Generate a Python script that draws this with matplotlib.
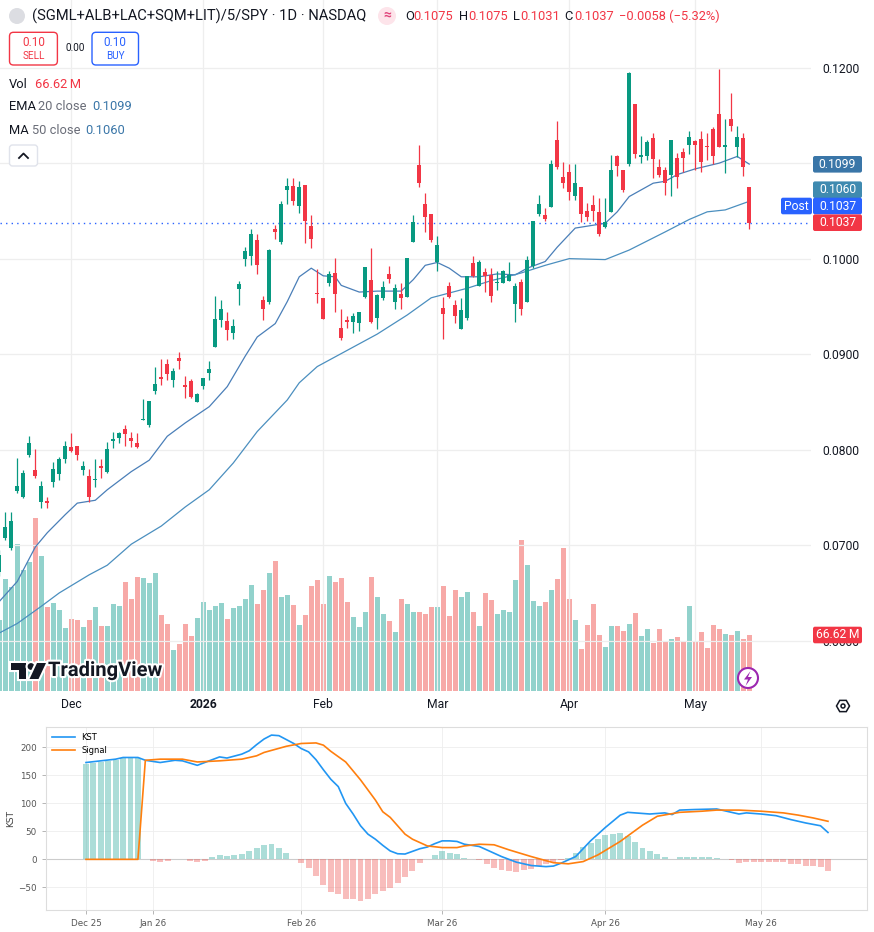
import numpy as np
import matplotlib
matplotlib.use('Agg')
import matplotlib.pyplot as plt
from matplotlib.patches import FancyBboxPatch, Circle, Polygon, RegularPolygon
import matplotlib.patheffects as pe

W, H = 874, 932
TV = ['Roboto', 'DejaVu Sans']

# ---- daily bars, prices x 1e4 ----
opens = [672, 708, 697, 757, 750, 794, 779, 745, 746, 766, 774, 790, 803, 804, 779, 772, 768, 783, 777, 809,
         812, 822, 812, 807, 831, 826, 861, 876, 890, 873, 896, 868, 872, 850, 867, 880, 908, 936, 935, 922,
         968, 1000, 1003, 1019, 957, 955, 1031, 1017, 1072, 1076, 1055, 1077, 1034, 964, 959, 975, 985, 927, 936, 934,
         933, 960, 978, 938, 959, 984, 955, 963, 960, 1017, 1098, 1057, 1047, 997, 948, 971, 951, 926, 938, 995,
         971, 986, 983, 974, 974, 977, 952, 976, 955, 992, 1047, 1046, 1054, 1124, 1085, 1091, 1066, 1075, 1050, 1056,
         1049, 1033, 1049, 1107, 1093, 1099, 1162, 1106, 1107, 1126, 1096, 1093, 1088, 1105, 1112, 1119, 1123, 1125, 1118, 1136,
         1151, 1117, 1146, 1117, 1126, 1075]
highs = [695, 735, 735, 791, 779, 814, 801, 767, 750, 787, 792, 809, 817, 804, 788, 780, 790, 790, 808, 818,
         818, 826, 818, 817, 853, 851, 887, 895, 895, 886, 902, 877, 874, 859, 875, 893, 961, 957, 944, 937,
         977, 1012, 1031, 1026, 961, 1010, 1035, 1060, 1084, 1084, 1081, 1077, 1046, 989, 959, 987, 1001, 947, 940, 943,
         944, 991, 1011, 963, 977, 992, 973, 974, 1001, 1046, 1119, 1069, 1047, 1024, 960, 976, 957, 959, 982, 1003,
         999, 990, 990, 987, 988, 996, 974, 979, 1003, 1039, 1067, 1053, 1103, 1144, 1101, 1099, 1099, 1075, 1058, 1067,
         1063, 1063, 1108, 1109, 1093, 1195, 1162, 1128, 1124, 1132, 1104, 1096, 1124, 1111, 1116, 1134, 1124, 1134, 1132, 1138,
         1199, 1146, 1173, 1139, 1132, 1075]
lows = [668, 705, 695, 755, 749, 792, 770, 739, 739, 761, 768, 786, 798, 789, 773, 745, 761, 770, 776, 802,
        807, 804, 803, 802, 831, 824, 858, 868, 873, 866, 884, 854, 854, 850, 863, 873, 907, 928, 915, 916,
        951, 992, 993, 984, 936, 952, 1021, 1015, 1057, 1056, 1048, 1016, 1011, 954, 937, 971, 944, 915, 927, 922,
        924, 959, 933, 926, 957, 975, 947, 947, 960, 1017, 1075, 1028, 1017, 987, 916, 959, 933, 926, 936, 981,
        971, 965, 955, 967, 974, 977, 934, 941, 955, 990, 1045, 1039, 1054, 1094, 1074, 1061, 1061, 1038, 1039, 1039,
        1024, 1032, 1049, 1087, 1070, 1097, 1105, 1100, 1103, 1084, 1085, 1067, 1066, 1074, 1091, 1110, 1093, 1091, 1103, 1099,
        1117, 1090, 1134, 1106, 1087, 1031]
closes = [690, 719, 725, 762, 776, 807, 772, 762, 744, 780, 790, 804, 799, 794, 783, 750, 769, 781, 801, 811,
          817, 816, 809, 803, 832, 851, 869, 874, 879, 882, 893, 866, 855, 858, 875, 884, 937, 947, 925, 929,
          973, 1008, 1026, 993, 947, 1009, 1028, 1057, 1076, 1060, 1075, 1039, 1021, 963, 937, 984, 963, 917, 934, 940,
          944, 991, 934, 962, 970, 979, 969, 959, 1001, 1038, 1079, 1044, 1019, 1014, 942, 960, 940, 946, 982, 982,
          996, 982, 961, 975, 987, 983, 971, 947, 999, 1039, 1057, 1042, 1099, 1096, 1079, 1070, 1079, 1047, 1044, 1050,
          1026, 1038, 1093, 1097, 1072, 1194, 1110, 1108, 1122, 1104, 1088, 1079, 1124, 1085, 1105, 1127, 1119, 1101, 1117, 1107,
          1117, 1119, 1139, 1127, 1096, 1037]
volume_m = [84.5, 133, 124, 175, 144, 153, 206, 161, 100, 105, 96, 75, 86, 84, 76, 84, 100, 77, 77, 104,
            101, 130, 109, 136, 134, 129, 140, 90, 80, 49, 56, 80, 65, 87, 106, 96, 101, 105, 86, 99,
            101, 109, 126, 104, 120, 140, 155, 112, 114, 102, 79, 90, 125, 132, 104, 137, 130, 134, 106, 88,
            76, 94, 136, 112, 92, 83, 70, 109, 104, 94, 94, 92, 100, 100, 125, 89, 120, 112, 118, 94,
            77, 117, 108, 92, 96, 94, 132, 180, 150, 107, 101, 106, 120, 133, 170, 109, 84, 50, 79, 104,
            67, 52, 77, 77, 71, 80, 93, 65, 74, 57, 74, 58, 62, 64, 60, 101, 60, 70, 51, 79,
            74, 68, 67, 71, 62, 66.62]
last_change = -0.0058
last_change_pct = -5.32

ema_idx = [0, 3, 6, 8, 11, 13, 16, 18, 22, 25, 28, 31, 35, 38, 41, 43, 46, 48, 50, 52, 54, 56, 57, 60, 63, 67,
           69, 71, 73, 75, 77, 80, 83, 86, 88, 91, 93, 96, 101, 103, 105, 109, 111, 113, 116, 120, 123, 125]
ema_val = [641, 662, 698, 713, 732, 744, 747, 758, 777, 789, 814, 828, 845, 866, 898, 918, 932, 955, 981, 990,
           982, 981, 972, 965, 966, 966, 978, 993, 996, 990, 981, 981, 984, 983, 990, 997, 1012, 1032, 1037, 1049,
           1065, 1079, 1081, 1088, 1094, 1100, 1107, 1099]
ma_idx = [0, 3, 7, 10, 15, 18, 22, 27, 31, 35, 39, 43, 48, 50, 53, 58, 63, 68, 72, 75, 78, 82, 84, 87, 91, 95,
          101, 105, 111, 115, 118, 121, 125]
ma_val = [608, 618, 636, 650, 669, 679, 701, 720, 740, 758, 786, 819, 852, 870, 887, 904, 921, 941, 959, 964,
          969, 977, 980, 985, 993, 1000, 999, 1009, 1028, 1041, 1049, 1051, 1060]

month_pos = [12, 34, 54, 73, 95, 116]
month_lbl = ['Dec', '2026', 'Feb', 'Mar', 'Apr', 'May']
price_ticks = [0.06, 0.07, 0.08, 0.09, 0.10, 0.11, 0.12]

# ---- KST panel ----
kst_idx = [25, 27, 29, 30, 32, 33, 35, 37, 38, 40, 41, 43, 44, 46, 47, 48, 49, 50, 51, 52, 53, 54, 55, 56, 57,
           58, 59, 60, 61, 62, 63, 64, 65, 66, 67, 68, 70, 71, 72, 73, 74, 75, 76, 78, 80, 81, 83, 85, 87, 88,
           89, 91, 93, 95, 97, 98, 100, 101, 103, 104, 105, 107, 110, 111, 113, 114, 116, 118, 120, 122, 124, 125]
kst_val = [173, 176, 179, 182, 182, 177, 173, 177, 176, 168, 173, 183, 181, 188, 194, 205, 215, 222, 221, 214,
           207, 198, 192, 178, 160, 143, 130, 100, 81, 60, 45, 36, 25, 15, 10, 9.5, 19, 22, 28, 33,
           33, 32, 27, 23, 11, 5, -5, -11, -13, -12, -7, 5, 33, 57, 79, 84, 82, 81, 83, 80,
           88, 89, 90, 87, 81, 83, 81, 78, 71, 65, 60, 48]
sig_idx = [25, 32, 33, 35, 38, 40, 43, 46, 48, 49, 52, 54, 56, 57, 58, 60, 62, 64, 65, 66, 67, 68, 69, 71, 73,
           75, 76, 78, 80, 82, 85, 88, 90, 92, 94, 97, 100, 102, 105, 108, 110, 113, 116, 119, 121, 123, 125]
sig_val = [0, 0, 177, 179, 179, 174, 176, 179, 185, 191, 202, 207, 208, 204, 193, 174, 142, 106, 85, 75,
           60, 45, 36, 24, 21, 21, 24, 27, 26, 17, 5, -6, -8, -4, 8, 32, 61, 77, 84, 86,
           88, 88, 86, 83, 79, 74, 68]
hist_start = 25
hist_val = [171, 172, 174, 176, 177, 181, 181, 181, 0, -3, -5, -3, 0, 0, -3, -5, -3, 4, 8, 6,
            8, 10, 15, 21, 25, 28, 21, 12, 0, -7, -16, -29, -46, -58, -62, -71, -71, -74, -71, -62,
            -56, -51, -42, -32, -20, -7, 0, 8, 15, 12, 9, 3, 0, -2, -9, -16, -19, -20, -22, -19,
            -18, -12, -9, -5, -2, 3, 11, 22, 30, 37, 43, 46, 47, 42, 31, 21, 15, 9, 5, 0,
            4, 5, 4, 5, 4, 2, 0, -2, -6, -4, -5, -4, -4, -5, -5, -8, -9, -11, -11, -13, -20]
kst_tick_pos = [25, 34, 54, 73, 95, 116]
kst_tick_lbl = ['Dec 25', 'Jan 26', 'Feb 26', 'Mar 26', 'Apr 26', 'May 26']

o = np.array(opens) / 1e4
hi = np.array(highs) / 1e4
lo = np.array(lows) / 1e4
c = np.array(closes) / 1e4
idx = np.arange(len(o))
up = c >= o

fig = plt.figure(figsize=(W / 100, H / 100), dpi=100)
fig.patch.set_facecolor('white')

box = [0, 1 - 691 / H, 811 / W, 691 / H]
ax_v = fig.add_axes(box, zorder=1)
ax = fig.add_axes(box, zorder=2)
ax.patch.set_alpha(0)

# volume
vcol = np.where(up, '#92d2cc', '#f7a9a7')
ax_v.bar(idx, volume_m, width=0.82, color=vcol, linewidth=0)
ax_v.set_xlim(0.12, 135.3)
ax_v.set_ylim(0, 822)
ax_v.axis('off')

# grid
for t in price_ticks:
    ax.axhline(t, color='#eeeeee', lw=0.9, zorder=0)
for p in month_pos:
    ax.axvline(p, color='#eeeeee', lw=0.9, zorder=0)

# MAs
ax.plot(ema_idx, np.array(ema_val) / 1e4, color='#4a7fb8', lw=0.9, zorder=2)
ax.plot(ma_idx, np.array(ma_val) / 1e4, color='#4b8fbf', lw=0.9, zorder=2)

# candles
ccol = np.where(up, '#089981', '#f23645')
ax.vlines(idx, lo, hi, colors=ccol, lw=0.9, zorder=3)
ax.bar(idx, np.maximum(np.abs(c - o), 0.00012), bottom=np.minimum(o, c), width=0.72,
       color=ccol, linewidth=0, zorder=3)

ax.axhline(c[-1], color='#2962ff', lw=1, ls=(0, (1, 3)), zorder=2)

ax.set_xlim(0.12, 135.3)
ax.set_ylim(0.05473, 0.12708)
for s in ax.spines.values():
    s.set_visible(False)
ax.yaxis.tick_right()
ax.set_yticks(price_ticks)
ax.set_yticklabels(['' if abs(t - 0.11) < 1e-9 else f'{t:.4f}' for t in price_ticks])
ax.tick_params(axis='y', length=0, pad=8, labelsize=8.7, labelcolor='#131722')
ax.set_xticks(month_pos)
ax.set_xticklabels(month_lbl)
ax.tick_params(axis='x', length=0, pad=5, labelsize=8.7, labelcolor='#131722')
for lab in ax.get_yticklabels() + ax.get_xticklabels():
    lab.set_family(TV)
ax.get_xticklabels()[1].set_fontweight('bold')

# ---- overlay in pixel coords ----
ov = fig.add_axes([0, 0, 1, 1], zorder=5)
ov.set_xlim(0, W)
ov.set_ylim(H, 0)
ov.axis('off')
ov.patch.set_alpha(0)


def txt(x, y, s, **kw):
    kw.setdefault('fontsize', 9)
    kw.setdefault('color', '#131722')
    kw.setdefault('va', 'center')
    kw.setdefault('family', TV)
    return ov.text(x, y, s, **kw)


def rbox(x0, y0, w, h, fc, ec='none', r=3, lw=1.0):
    ov.add_patch(FancyBboxPatch((x0, y0), w, h, boxstyle=f'round,pad=0,rounding_size={r}',
                                fc=fc, ec=ec, lw=lw, mutation_aspect=1))


def tag(yc, s, fc, x0=813, x1=862):
    rbox(x0, yc - 8.3, x1 - x0, 16.6, fc, r=2)
    txt((x0 + x1) / 2, yc, s, ha='center', color='white', fontsize=8.7)


# header
ov.add_patch(Circle((17, 16), 8, fc='#dcdde2', ec='none'))
txt(32, 16, '(SGML+ALB+LAC+SQM+LIT)/5/SPY · 1D · NASDAQ', fontsize=10.6)
ov.add_patch(Circle((387, 16), 9, fc='#fde4ea', ec='none'))
txt(387, 16, '≈', ha='center', color='#e0457b', fontsize=10, fontweight='bold')
red = '#f23645'
for x, s, col in [(405, 'O', '#131722'), (413.6, f'{o[-1]:.4f}', red),
                  (459, 'H', '#131722'), (468, f'{hi[-1]:.4f}', red),
                  (513.4, 'L', '#131722'), (520.6, f'{lo[-1]:.4f}', red),
                  (564.7, 'C', '#131722'), (574, f'{c[-1]:.4f}', red)]:
    txt(x, 16, s, color=col, fontsize=9.3)
txt(618.7, 16, f'{last_change:+.4f} ({last_change_pct:+.2f}%)'.replace('-', '\u2212'),
    color=red, fontsize=9.3)

# sell / buy
rbox(9.5, 32.3, 47.9, 32.7, 'white', ec=red, r=4)
txt(33.5, 42, f'{c[-1]:.2f}', ha='center', color=red, fontsize=8.5)
txt(33.5, 56, 'SELL', ha='center', color=red, fontsize=7.2)
txt(75, 48, '0.00', ha='center', fontsize=7.2)
rbox(92, 32.3, 46.5, 32.7, 'white', ec='#2962ff', r=4)
txt(115.3, 42, f'{c[-1]:.2f}', ha='center', color='#2962ff', fontsize=8.5)
txt(115.3, 56, 'BUY', ha='center', color='#2962ff', fontsize=7.2)

# legend rows
txt(9, 84, 'Vol', fontsize=9.3)
txt(35, 84, f'{volume_m[-1]:.2f}\u2009M', color=red, fontsize=9.3)
txt(9, 107, 'EMA', fontsize=9.3)
txt(37.5, 107, '20 close', color='#6a6d78', fontsize=9.3)
txt(92, 107, f'{ema_val[-1] / 1e4:.4f}', color='#3a76a8', fontsize=9.3)
txt(9, 130, 'MA', fontsize=9.3)
txt(31.5, 130, '50 close', color='#6a6d78', fontsize=9.3)
txt(85, 130, f'{ma_val[-1] / 1e4:.4f}', color='#3a76a8', fontsize=9.3)
rbox(9.5, 145, 28, 21, 'white', ec='#e0e3eb', r=3)
ov.plot([19, 23.5, 28], [158, 153.5, 158], color='#131722', lw=1.3)

# price tags
tag(164.3, f'{ema_val[-1] / 1e4:.4f}', '#3a76a8')
tag(189.7, f'{ma_val[-1] / 1e4:.4f}', '#3f8ab0')
tag(206, f'{c[-1]:.4f}', '#2962ff')
rbox(781, 197.7, 31, 16.6, '#2962ff', r=2)
txt(796.5, 206, 'Post', ha='center', color='white', fontsize=8.7)
tag(222.7, f'{c[-1]:.4f}', red)
tag(635, f'{volume_m[-1]:.2f}\u2009M', red)

# TradingView logo
logo = [Polygon([(11, 663), (26, 663), (26, 679), (19, 679), (19, 670), (11, 670)], closed=True),
        Circle((31, 666.5), 3.4),
        Polygon([(37, 663), (46, 663), (38.5, 679), (29.5, 679)], closed=True)]
for p in logo:
    p.set_facecolor('#131722')
    p.set_edgecolor('none')
    p.set_path_effects([pe.withStroke(linewidth=3, foreground='white')])
    ov.add_patch(p)
txt(48, 670.5, 'TradingView', fontsize=14.5, fontweight='bold',
    path_effects=[pe.withStroke(linewidth=3, foreground='white')])

# lightning + settings icons
ov.add_patch(Circle((748, 678), 10, fc='white', ec='#9c27b0', lw=1.5))
ov.add_patch(Polygon([(750.5, 671), (744, 679.5), (748, 679.5), (745.5, 686), (752, 677), (748, 677)],
                     closed=True, fc='#9c27b0', ec='none'))
ov.add_patch(RegularPolygon((843, 706), numVertices=6, radius=6.5, orientation=np.pi / 6,
                            fc='none', ec='#131722', lw=1.1))
ov.add_patch(Circle((843, 706), 2, fc='none', ec='#131722', lw=1.1))

# ---- KST panel ----
ax2 = fig.add_axes([45.7 / W, 1 - 910 / H, (867.3 - 45.7) / W, (910 - 726.7) / H], zorder=3)
hx = np.arange(hist_start, hist_start + len(hist_val))
hv = np.array(hist_val)
ax2.bar(hx, hv, width=0.8, color=np.where(hv >= 0, '#26a69a', '#ef5350'), alpha=0.38, linewidth=0, zorder=2)
ax2.axhline(0, color='#cccccc', lw=0.8, zorder=1)
ax2.plot(kst_idx, kst_val, color='#2196f3', lw=1.2, label='KST', zorder=3)
ax2.plot(sig_idx, sig_val, color='#ff7f0e', lw=1.2, label='Signal', zorder=3)
ax2.set_xlim(19.57, 130.3)
ax2.set_ylim(-90.5, 237)
ax2.set_yticks([-50, 0, 50, 100, 150, 200])
ax2.set_xticks(kst_tick_pos)
ax2.set_xticklabels(kst_tick_lbl)
ax2.grid(True, color='#eeeeee', lw=0.6, zorder=0)
ax2.set_axisbelow(True)
for s in ax2.spines.values():
    s.set_color('#dddddd')
ax2.tick_params(labelsize=6.3, labelcolor='#555555', color='#aaaaaa', length=3, width=0.6)
ax2.set_ylabel('KST', fontsize=6.5, color='#444444', labelpad=2)
ax2.legend(loc='upper left', frameon=False, fontsize=6, handlelength=2.8, borderaxespad=0.3)

fig.savefig('out.png', dpi=100, facecolor='white')
